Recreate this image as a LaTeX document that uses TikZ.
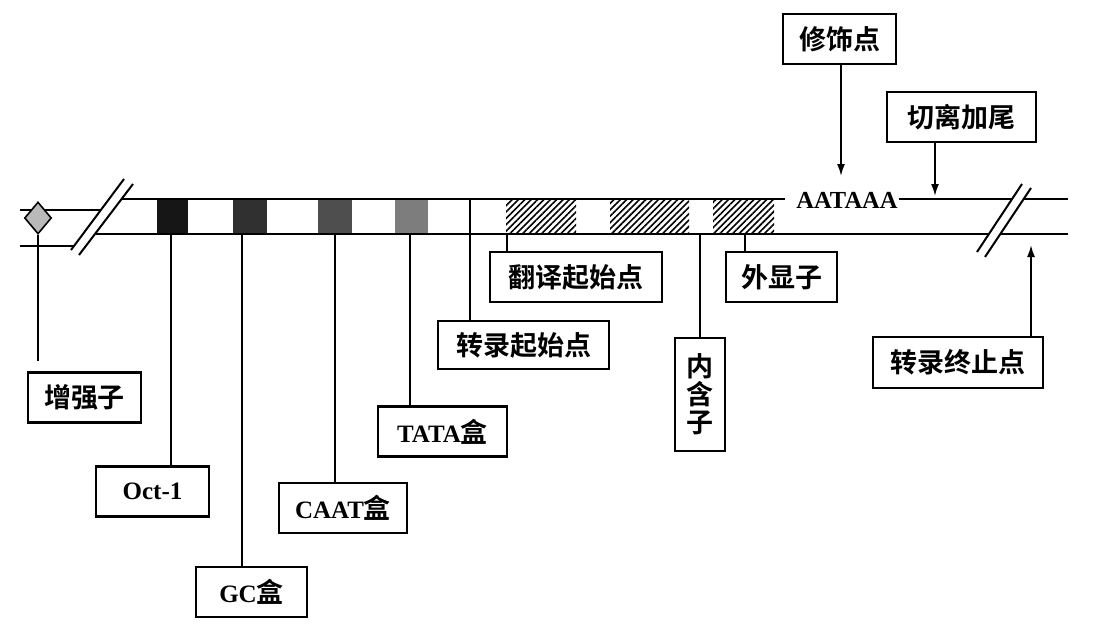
\documentclass[tikz,border=0pt]{standalone}
\usepackage{fontspec}
\setmainfont{Liberation Serif}
\newfontfamily\cjk{Noto Sans CJK SC}[BoldFont={Noto Sans CJK SC Bold}]
\usetikzlibrary{shapes.geometric, arrows.meta, positioning, patterns.meta}
\definecolor{boxone}{RGB}{22, 22, 22}
\definecolor{boxtwo}{RGB}{48, 48, 48}
\definecolor{boxthree}{RGB}{78, 78, 78}
\definecolor{boxfour}{RGB}{125, 125, 125}
\definecolor{enhgray}{RGB}{185, 185, 185}
\newcommand{\lattext}[1]{{\rmfamily\fontsize{25pt}{28pt}\selectfont #1}}
\tikzset{
    strand/.style={line width=2.6pt},
    cutmark/.style={line width=2pt},
    labelbox/.style={draw, line width=2.4pt, minimum height=50pt, inner sep=0pt,
        font=\cjk\bfseries\fontsize{27pt}{28pt}\selectfont},
    pin/.style={line width=1.8pt},
    pointer/.style={line width=1.8pt, -{Latex[length=12pt, width=8pt]}}
}

\begin{document}
\begin{tikzpicture}[x=1pt, y=-1pt]
    \useasboundingbox (0,0) rectangle (1104,629);

    \draw[strand] (20,210) -- (101,210);
    \draw[strand] (20,246) -- (74,246);
    \draw[strand] (122,199) -- (785,199);
    \draw[strand] (96,234) -- (989,234);
    \draw[strand] (899,199) -- (1012,199);
    \draw[strand] (1024,199) -- (1068,199);
    \draw[strand] (1000,234) -- (1068,234);
    \draw[cutmark] (71,250) -- (124,179);
    \draw[cutmark] (79,255) -- (133,184);
    \draw[cutmark] (977,252) -- (1022,184);
    \draw[cutmark] (985,257) -- (1031,188);

    \foreach \xa/\xb/\col in {157/188/boxone, 233/267/boxtwo, 318/352/boxthree, 395/428/boxfour}
        \fill[\col] (\xa,200) rectangle (\xb,233);
    \foreach \xa/\xb in {506/576, 610/689, 713/774}
        \fill[pattern={Lines[angle=45, distance=4.5pt, line width=1.6pt]}] (\xa,200) rectangle (\xb,233);

    \node[diamond, draw, line width=1.6pt, fill=enhgray, inner sep=0pt,
          minimum width=27pt, minimum height=32pt] (enhancer) at (38,218) {};
    \node[anchor=base, inner sep=0pt, font=\bfseries\fontsize{24.5pt}{28pt}\selectfont]
        (aataaa) at (847,208) {AATAAA};

    \node[labelbox, minimum width=113pt] (enhlabel) at (84.5,397.5) {增强子};
    \node[labelbox, minimum width=113pt] (oct) at (152.5,491.5) {\lattext{Oct-1}};
    \node[labelbox, minimum width=111pt] (gc) at (251.5,592) {\lattext{GC}盒};
    \node[labelbox, minimum width=128pt] (caat) at (343,508) {\lattext{CAAT}盒};
    \node[labelbox, minimum width=129pt] (tata) at (442.5,431.5) {\lattext{TATA}盒};
    \node[labelbox, minimum width=171pt, minimum height=48pt] (tss) at (523.5,345) {转录起始点};
    \node[labelbox, minimum width=172pt] (tls) at (576,277) {翻译起始点};
    \node[labelbox, minimum width=111pt] (exon) at (781.5,277) {外显子};
    \node[labelbox, minimum width=50pt, minimum height=113pt, align=center] (intron) at (700,394.5) {内\\含\\子};
    \node[labelbox, minimum width=170pt, minimum height=51pt] (term) at (958,362.5) {转录终止点};
    \node[labelbox, minimum width=113pt] (mod) at (839.5,39) {修饰点};
    \node[labelbox, minimum width=149pt] (cut) at (961.5,117) {切离加尾};

    \coordinate (enhend) at (38,361);
    \draw[pin] (enhancer.south) -- (enhend);
    \foreach \site/\lbl in {171/oct, 242/gc, 335/caat, 410/tata, 507/tls, 700/intron, 745/exon}
        \draw[pin] (\site,234) -- (\site,234 |- \lbl.north);
    \draw[pin] (470,199) -- (470,199 |- tss.north);

    \coordinate (modsite) at (841,176);
    \coordinate (cutsite) at (935,196);
    \coordinate (termsite) at (1031,245);
    \draw[pointer] (modsite |- mod.south) -- (modsite);
    \draw[pointer] (cutsite |- cut.south) -- (cutsite);
    \draw[pointer] (termsite |- term.north) -- (termsite);
\end{tikzpicture}
\end{document}
